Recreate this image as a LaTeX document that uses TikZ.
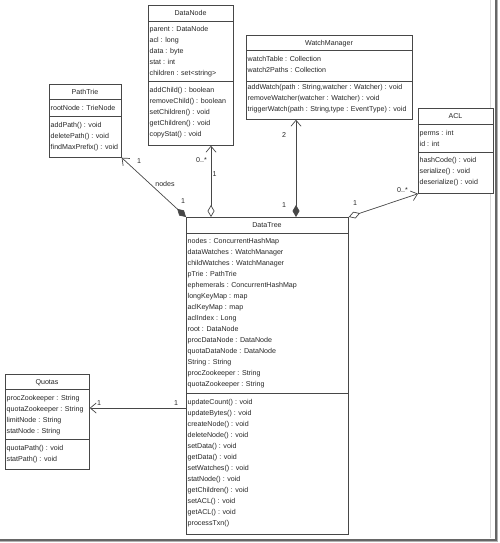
\documentclass[tikz,border=0pt]{standalone}
\usepackage{fontspec}
\setmainfont{Liberation Sans}
\usetikzlibrary{arrows.meta,calc}
\tikzset{
  cls/.style={draw=black!72, line width=0.7pt, fill=white, inner sep=0pt, anchor=north west},
  sepline/.style={draw=black!72, line width=0.7pt},
  row/.style={font=\fontsize{7.1}{11}\selectfont, text=black!85, inner sep=0pt, anchor=base west},
  ttl/.style={font=\fontsize{7.1}{11}\selectfont, text=black!85, inner sep=0pt, anchor=base},
  lbl/.style={font=\fontsize{7.1}{11}\selectfont, text=black!85, inner sep=0pt},
  conn/.style={draw=black!72, line width=0.7pt},
  barb/.tip={Straight Barb[length=6pt,width=10pt,line width=0.7pt]},
  fdia/.tip={Diamond[length=12pt,width=7pt]},
  odia/.tip={Diamond[length=12pt,width=7pt,fill=white,line width=0.7pt]},
}
\newcommand\umlbox[8]{%
  \node[cls, minimum width={#4-#2}, minimum height={#5-#3}] (#1) at (#2,#3) {};
  \draw[sepline] (#2,#6) -- (#4,#6);
  \draw[sepline] (#2,#7) -- (#4,#7);
  \node[ttl] (#1-t) at ({(#2+#4)/2},{(#3+#6)/2+2.6}) {#8};
}
\newcommand\umlrows[4]{%
  \foreach \t [count=\i] in {#4} {\node[row] (#1\i) at (#2,{#3+2.6+11*(\i-1)}) {\t};}
}
\begin{document}
\begin{tikzpicture}[x=1pt,y=-1pt]
\useasboundingbox (0,0) rectangle (499,543);
% frame shadow
\draw[black!15, line width=0.6pt] (490.5,0) -- (490.5,537.5);
\draw[black!60, line width=2pt] (496,0) -- (496,539.5) -- (0,539.5);
\draw[black!30, line width=0.8pt] (497.6,0) -- (497.6,541) -- (0,541);

% classes
\umlbox{DN}{148}{5}{233}{145}{21}{81}{DataNode}
\umlrows{DNa}{149.5}{29}{parent : DataNode, acl : long, data : byte, stat : int, {children : set<string>}}
\umlrows{DNm}{149.5}{90}{addChild() : boolean, removeChild() : boolean, setChildren() : void, getChildren() : void, copyStat() : void}

\umlbox{PT}{49}{84}{121}{157}{99}{116}{PathTrie}
\umlrows{PTa}{50.5}{108}{rootNode : TrieNode}
\umlrows{PTm}{50.5}{124.7}{addPath() : void, deletePath() : void, findMaxPrefix() : void}

\umlbox{WM}{246}{35}{412}{119}{50.5}{81}{WatchManager}
\umlrows{WMa}{247.5}{59}{watchTable : Collection, watch2Paths : Collection}
\umlrows{WMm}{247.5}{86.7}{{addWatch(path : String,watcher : Watcher) : void}, removeWatcher(watcher : Watcher) : void, {triggerWatch(path : String,type : EventType) : void}}

\umlbox{ACL}{418}{108}{493}{193}{124}{152}{ACL}
\umlrows{ACLa}{419.5}{133}{perms : int, id : int}
\umlrows{ACLm}{419.5}{160.3}{hashCode() : void, serialize() : void, deserialize() : void}

\umlbox{DT}{186}{217}{348}{534}{233}{393}{DataTree}
\umlrows{DTa}{187.5}{241}{nodes : ConcurrentHashMap, dataWatches : WatchManager, childWatches : WatchManager, pTrie : PathTrie, ephemerals : ConcurrentHashMap, longKeyMap : map, aclKeyMap : map, aclIndex : Long, root : DataNode, procDataNode : DataNode, quotaDataNode : DataNode, String : String, procZookeeper : String, quotaZookeeper : String}
\umlrows{DTm}{187.5}{402}{updateCount() : void, updateBytes() : void, createNode() : void, deleteNode() : void, setData() : void, getData() : void, setWatches() : void, statNode() : void, getChildren() : void, setACL() : void, getACL() : void, processTxn()}

\umlbox{QU}{5}{374}{89}{469}{389}{439}{Quotas}
\umlrows{QUa}{6.5}{398}{procZookeeper : String, quotaZookeeper : String, limitNode : String, statNode : String}
\umlrows{QUm}{6.5}{448}{quotaPath() : void, statPath() : void}

% connectors
\draw[conn, fdia-barb] (DT.north west) -- (PT.south east);
\draw[conn, odia-barb] ($(DT.north west)+(25,0)$) -- ($(DN.south west)+(63,0)$);
\draw[conn, fdia-barb] ($(DT.north west)+(110,0)$) -- ($(WM.south west)+(50,0)$);
\draw[conn, odia-barb] (DT.north east) -- (ACL.south west);
\draw[conn, -barb] ($(DT.north west)+(0,191)$) -- ($(QU.north east)+(0,34)$);

% multiplicities and roles
\node[lbl] (m1) at (139,161) {1};
\node[lbl] (rn) at (165,184) {nodes};
\node[lbl] (m2) at (183,201) {1};
\node[lbl] (m3) at (201.5,160) {0..*};
\node[lbl] (m4) at (214.5,174) {1};
\node[lbl] (m5) at (284,135) {2};
\node[lbl] (m6) at (284,205) {1};
\node[lbl] (m7) at (355,203) {1};
\node[lbl] (m8) at (402.5,190) {0..*};
\node[lbl] (m9) at (99,403) {1};
\node[lbl] (m10) at (176,403) {1};
\end{tikzpicture}
\end{document}
